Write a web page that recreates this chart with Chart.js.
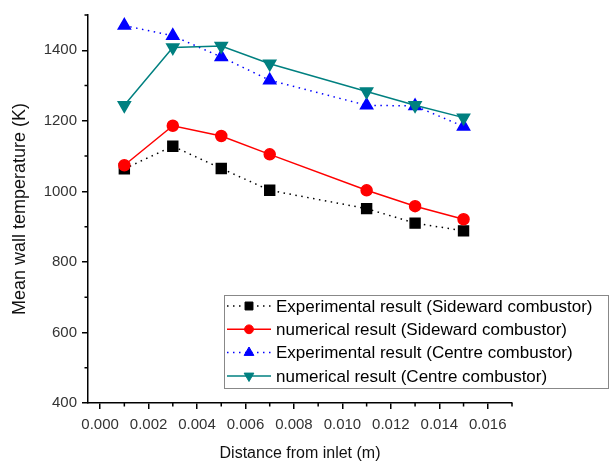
<!DOCTYPE html>
<html>
<head>
<meta charset="utf-8">
<script src="https://cdn.jsdelivr.net/npm/chart.js@4.4.1/dist/chart.umd.min.js"></script>
<style>
  html, body { margin: 0; padding: 0; background: #fff; }
  #wrap { width: 612px; height: 465px; }
</style>
</head>
<body>
<div id="wrap"><canvas id="chart" width="612" height="465"></canvas></div>
<script>
// data
const distance = [0.001, 0.003, 0.005, 0.007, 0.011, 0.013, 0.015];
const expSide = [1064, 1128, 1065, 1003, 951, 910, 888];
const numSide = [1074, 1186, 1157, 1105, 1003, 958, 921];
const expCentre = [1470, 1441, 1381, 1315, 1244, 1242, 1184];
const numCentre = [1244, 1408, 1412, 1362, 1283, 1244, 1209];
const seriesNames = [
  "Experimental result (Sideward combustor)",
  "numerical result (Sideward combustor)",
  "Experimental result (Centre combustor)",
  "numerical result (Centre combustor)"
];
const xMinorTicks = [0.001, 0.003, 0.005, 0.007, 0.009, 0.011, 0.013, 0.015, 0.017];
const yMinorTicks = [500, 700, 900, 1100, 1300, 1500];

const FONT = "'Liberation Sans', Arial, sans-serif";

const toPoints = (vals) => vals.map((v, i) => ({x: distance[i], y: v}));

// minor ticks on both axes
const minorTicks = {
  id: 'minorTicks',
  afterDraw(chart) {
    const ctx = chart.ctx;
    const xs = chart.scales.x, ys = chart.scales.y;
    ctx.save();
    ctx.strokeStyle = '#000';
    ctx.lineWidth = 1.5;
    ctx.beginPath();
    xMinorTicks.forEach(v => {
      const px = xs.getPixelForValue(v);
      ctx.moveTo(px, chart.chartArea.bottom);
      ctx.lineTo(px, chart.chartArea.bottom + 3.5);
    });
    yMinorTicks.forEach(v => {
      const py = ys.getPixelForValue(v);
      ctx.moveTo(chart.chartArea.left, py);
      ctx.lineTo(chart.chartArea.left - 3.5, py);
    });
    ctx.stroke();
    ctx.restore();
  }
};

// legend box inside the plot, like the original
const boxLegend = {
  id: 'boxLegend',
  afterDraw(chart) {
    const ctx = chart.ctx;
    const left = 224, top = 295, right = 608, bottom = 388;
    ctx.save();
    ctx.fillStyle = '#fff';
    ctx.fillRect(left, top, right - left, bottom - top);
    ctx.strokeStyle = '#888';
    ctx.lineWidth = 1;
    ctx.strokeRect(left + 0.5, top + 0.5, right - left, bottom - top);
    ctx.font = '17px ' + FONT;
    ctx.textBaseline = 'middle';
    chart.data.datasets.forEach((ds, i) => {
      const y = 306 + i * 23.3;
      ctx.strokeStyle = ds.borderColor;
      ctx.lineWidth = ds.borderWidth;
      ctx.setLineDash(ds.borderDash || []);
      ctx.beginPath();
      ctx.moveTo(227, y);
      ctx.lineTo(271, y);
      ctx.stroke();
      ctx.setLineDash([]);
      ctx.fillStyle = ds.pointBackgroundColor;
      ctx.strokeStyle = ds.pointBorderColor;
      ctx.lineWidth = 1;
      Chart.helpers.drawPoint(ctx, {
        pointStyle: ds.pointStyle,
        radius: ds.pointRadius * 0.8,
        rotation: ds.pointRotation || 0,
        borderWidth: 1
      }, 249, y);
      ctx.fillStyle = '#000';
      ctx.fillText(ds.label, 276, y + 1);
    });
    ctx.restore();
  }
};

const data = {
  datasets: [
    {
      label: seriesNames[0],
      data: toPoints(expSide),
      borderColor: '#000',
      borderWidth: 1.5,
      borderDash: [1.5, 4.5],
      pointStyle: 'rect',
      pointRadius: 7,
      pointBackgroundColor: '#000',
      pointBorderColor: '#000',
      order: 4
    },
    {
      label: seriesNames[1],
      data: toPoints(numSide),
      borderColor: '#ff0000',
      borderWidth: 1.5,
      pointStyle: 'circle',
      pointRadius: 5.5,
      pointBackgroundColor: '#ff0000',
      pointBorderColor: '#ff0000',
      order: 3
    },
    {
      label: seriesNames[2],
      data: toPoints(expCentre),
      borderColor: '#0000ff',
      borderWidth: 1.5,
      borderDash: [1.5, 4.5],
      pointStyle: 'triangle',
      pointRadius: 7,
      pointBackgroundColor: '#0000ff',
      pointBorderColor: '#0000ff',
      order: 2
    },
    {
      label: seriesNames[3],
      data: toPoints(numCentre),
      borderColor: '#008080',
      borderWidth: 1.5,
      pointStyle: 'triangle',
      pointRotation: 180,
      pointRadius: 7,
      pointBackgroundColor: '#008080',
      pointBorderColor: '#008080',
      order: 1
    }
  ]
};

const config = {
  type: 'line',
  data: data,
  plugins: [minorTicks, boxLegend],
  options: {
    responsive: false,
    animation: false,
    layout: { padding: { left: 0, top: 15, right: 100, bottom: 0 } },
    plugins: {
      legend: { display: false },
      tooltip: { enabled: false }
    },
    scales: {
      x: {
        type: 'linear',
        min: -0.0005,
        max: 0.017,
        border: { display: true, color: '#000', width: 1.5 },
        grid: { display: true, drawOnChartArea: false, drawTicks: true, tickLength: 6, tickColor: '#000', lineWidth: 1.5 },
        ticks: {
          stepSize: 0.002,
          includeBounds: false,
          padding: 7,
          color: '#333',
          font: { family: FONT, size: 15 },
          maxRotation: 0,
          callback: (v) => v.toFixed(3)
        },
        title: {
          display: true,
          text: 'Distance from inlet (m)',
          color: '#111',
          font: { family: FONT, size: 16 },
          padding: { top: 4, bottom: 2 }
        },
        afterFit: (scale) => { scale.height = 62; }
      },
      y: {
        type: 'linear',
        min: 400,
        max: 1500,
        border: { display: true, color: '#000', width: 1.5 },
        grid: { display: true, drawOnChartArea: false, drawTicks: true, tickLength: 6, tickColor: '#000', lineWidth: 1.5 },
        ticks: {
          stepSize: 200,
          includeBounds: false,
          padding: 5,
          color: '#333',
          font: { family: FONT, size: 15 },
          callback: (v) => String(v)
        },
        title: {
          display: true,
          text: 'Mean wall temperature (K)',
          color: '#111',
          font: { family: FONT, size: 18 },
          padding: { top: 9, bottom: 4 }
        },
        afterFit: (scale) => { scale.width = 88; }
      }
    }
  }
};

new Chart(document.getElementById('chart'), config);
</script>
</body>
</html>
